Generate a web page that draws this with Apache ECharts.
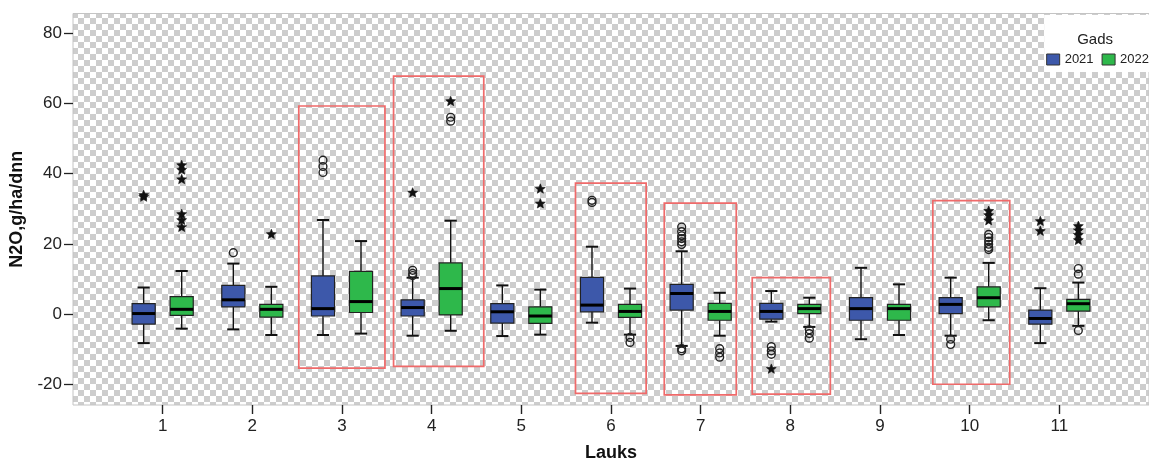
<!DOCTYPE html>
<html>
<head>
<meta charset="utf-8">
<title>N2O pa laukiem</title>
<script src="https://cdn.jsdelivr.net/npm/echarts@6/dist/echarts.min.js"></script>
<style>
  html, body { margin: 0; padding: 0; background: #fff; }
  #chart { width: 1149px; height: 467px; }
</style>
</head>
<body>
<div id="chart"></div>
<script>
// Field numbers (x axis) and y tick values
const fields = [1, 2, 3, 4, 5, 6, 7, 8, 9, 10, 11];
const yTicks = [-20, 0, 20, 40, 60, 80];
const years = ['2021', '2022'];

// Box statistics per field: [min whisker, Q1, median, Q3, max whisker]
const stats2021 = [
  [-8.2, -2.8, 0.2, 3.0, 7.6],
  [-4.3, 2.1, 4.1, 8.2, 14.4],
  [-5.9, -0.5, 1.6, 10.9, 26.8],
  [-6.1, -0.5, 1.9, 4.1, 10.4],
  [-6.2, -2.5, 0.7, 3.0, 8.2],
  [-2.4, 0.7, 2.6, 10.5, 19.2],
  [-9.0, 1.2, 5.9, 8.5, 17.9],
  [-2.1, -1.4, 0.8, 3.1, 6.6],
  [-7.1, -1.7, 1.6, 4.7, 13.2],
  [-6.1, 0.2, 2.8, 4.7, 10.4],
  [-8.2, -2.8, -1.2, 1.2, 7.4]
];
const stats2022 = [
  [-4.1, -0.3, 1.4, 5.0, 12.3],
  [-5.9, -0.8, 1.4, 2.8, 7.8],
  [-5.5, 0.5, 3.6, 12.2, 20.8],
  [-4.7, -0.2, 7.3, 14.6, 26.6],
  [-5.8, -2.6, -0.5, 2.1, 7.0],
  [-5.8, -0.9, 0.8, 2.8, 7.3],
  [-6.1, -1.7, 0.8, 3.1, 6.1],
  [-3.6, 0.2, 1.6, 2.8, 4.7],
  [-5.9, -1.7, 1.6, 2.8, 8.5],
  [-1.7, 2.1, 4.7, 7.8, 14.6],
  [-3.3, 0.9, 3.0, 4.2, 9.0]
];

// Outliers ("o") and extremes ("*"): [field, value]
const outliers2021 = [
  [2, 17.5],
  [3, 43.8], [3, 42.0], [3, 40.3],
  [4, 12.5], [4, 11.6], [4, 11.0],
  [6, 32.4], [6, 31.8],
  [7, 24.8], [7, 23.5], [7, 22.3], [7, 21.5], [7, 20.6], [7, 19.8], [7, -10.4], [7, -9.8],
  [8, -9.2], [8, -10.4], [8, -11.4],
  [10, -7.1], [10, -8.6]
];
const extremes2021 = [
  [1, 33.8], [1, 33.3],
  [4, 34.5],
  [8, -15.6],
  [11, 26.4], [11, 23.6]
];
const outliers2022 = [
  [4, 56.0], [4, 54.9],
  [6, -6.6], [6, -8.0],
  [7, -9.8], [7, -11.0], [7, -12.2],
  [8, -4.4], [8, -5.5], [8, -6.8],
  [10, 22.7], [10, 21.8], [10, 20.8], [10, 19.9], [10, 19.0], [10, 18.4],
  [11, 13.0], [11, 11.4], [11, -4.6]
];
const extremes2022 = [
  [1, 42.3], [1, 41.0], [1, 38.3], [1, 28.4], [1, 26.7], [1, 24.7],
  [2, 22.7],
  [4, 60.5],
  [5, 35.6], [5, 31.4],
  [10, 29.3], [10, 28.1], [10, 26.6],
  [11, 25.0], [11, 23.8], [11, 22.5], [11, 21.0]
];

// Highlight frames around selected fields: [x from, y top, x to, y bottom]
const frames = [
  [2.518, 59.2, 3.479, -15.3],
  [3.575, 67.7, 4.581, -14.8],
  [5.604, 37.3, 6.392, -22.5],
  [6.594, 31.6, 7.397, -22.9],
  [7.575, 10.4, 8.446, -22.7],
  [9.589, 32.3, 10.447, -19.9]
];

const BLUE = '#3d58aa';
const GREEN = '#2eb84b';
const FONT = '"Liberation Sans", Arial, sans-serif';

// Checkered plot background
const tile = document.createElement('canvas');
tile.width = 12; tile.height = 12;
const tctx = tile.getContext('2d');
tctx.fillStyle = '#ffffff';
tctx.fillRect(0, 0, 12, 12);
tctx.fillStyle = '#cdcdcd';
tctx.fillRect(0, 0, 6, 6);
tctx.fillRect(6, 6, 6, 6);

// side: -1 = left box in the pair, +1 = right box
function boxRenderer(side) {
  return function (params, api) {
    const f = api.value(0);
    const bw = api.size([1, 0])[0];
    const cx = api.coord([f, 0])[0] + side * bw * 0.212;
    const half = bw * 0.129;
    const cap = bw * 0.068;
    const y = i => api.coord([f, api.value(i)])[1];
    const yMin = y(1), yQ1 = y(2), yMed = y(3), yQ3 = y(4), yMax = y(5);
    const ln = { stroke: '#111', lineWidth: 1.4 };
    const capStyle = { stroke: '#111', lineWidth: 2 };
    return {
      type: 'group',
      children: [
        { type: 'line', shape: { x1: cx, y1: yMax, x2: cx, y2: yQ3 }, style: ln },
        { type: 'line', shape: { x1: cx, y1: yQ1, x2: cx, y2: yMin }, style: ln },
        { type: 'line', shape: { x1: cx - cap, y1: yMax, x2: cx + cap, y2: yMax }, style: capStyle },
        { type: 'line', shape: { x1: cx - cap, y1: yMin, x2: cx + cap, y2: yMin }, style: capStyle },
        { type: 'rect', shape: { x: cx - half, y: yQ3, width: half * 2, height: yQ1 - yQ3 },
          style: { fill: api.visual('color'), stroke: '#222', lineWidth: 1.2 } },
        { type: 'line', shape: { x1: cx - half, y1: yMed, x2: cx + half, y2: yMed },
          style: { stroke: '#000', lineWidth: 3 } }
      ]
    };
  };
}

function starPoints(cx, cy, r) {
  const pts = [];
  for (let i = 0; i < 10; i++) {
    const rr = i % 2 === 0 ? r : r * 0.45;
    const a = -Math.PI / 2 + i * Math.PI / 5;
    pts.push([cx + rr * Math.cos(a), cy + rr * Math.sin(a)]);
  }
  return pts;
}

function pointRenderer(side, kind) {
  return function (params, api) {
    const f = api.value(0);
    const bw = api.size([1, 0])[0];
    const p = api.coord([f, api.value(1)]);
    const cx = p[0] + side * bw * 0.212;
    if (kind === 'star') {
      return { type: 'polygon', shape: { points: starPoints(cx, p[1], 5.2) },
               style: { fill: '#111', stroke: '#111', lineWidth: 0.6 } };
    }
    return { type: 'circle', shape: { cx: cx, cy: p[1], r: 3.9 },
             style: { fill: 'none', stroke: '#222', lineWidth: 1.4 } };
  };
}

const boxData = stats => fields.map((f, i) => [f].concat(stats[i]));

const chart = echarts.init(document.getElementById('chart'), null, { renderer: 'canvas' });

chart.setOption({
  animation: false,
  backgroundColor: '#ffffff',
  textStyle: { fontFamily: FONT },
  grid: {
    left: 73, right: -6, top: 13.5, bottom: 61,
    show: true,
    backgroundColor: { image: tile, repeat: 'repeat' },
    borderColor: '#c4c4c4', borderWidth: 1
  },
  title: {
    text: 'Gads',
    right: 31, top: 27,
    textStyle: { fontFamily: FONT, fontSize: 15, fontWeight: 'normal', color: '#222' },
    z: 20
  },
  legend: {
    data: years,
    right: -4, top: 15,
    padding: [38, 4, 6, 2],
    itemGap: 8,
    itemWidth: 13, itemHeight: 11,
    icon: 'rect',
    backgroundColor: '#ffffff',
    itemStyle: { borderColor: '#333', borderWidth: 1 },
    textStyle: { fontFamily: FONT, fontSize: 13, color: '#222' },
    z: 10
  },
  xAxis: {
    type: 'value',
    min: 0, max: 12,
    name: 'Lauks',
    nameLocation: 'middle',
    nameGap: 39,
    nameTextStyle: { fontFamily: FONT, fontSize: 18, fontWeight: 'bold', color: '#111' },
    axisLine: { show: false, onZero: false },
    splitLine: { show: false },
    axisTick: { show: true, length: 9, customValues: fields, lineStyle: { color: '#222', width: 1.4 } },
    axisLabel: { customValues: fields, margin: 13, fontSize: 17, color: '#222', fontFamily: FONT }
  },
  yAxis: {
    type: 'value',
    min: -25.8, max: 85.5,
    name: 'N2O,g/ha/dnn',
    nameLocation: 'middle',
    nameGap: 41,
    nameTextStyle: { fontFamily: FONT, fontSize: 18, fontWeight: 'bold', color: '#111' },
    axisLine: { show: false, onZero: false },
    splitLine: { show: false },
    axisTick: { show: true, length: 9, customValues: yTicks, lineStyle: { color: '#222', width: 1.3 } },
    axisLabel: { customValues: yTicks, margin: 11, fontSize: 17, color: '#222', fontFamily: FONT }
  },
  series: [
    {
      name: '2021', type: 'custom',
      renderItem: boxRenderer(-1),
      itemStyle: { color: BLUE },
      encode: { x: 0, y: [1, 2, 3, 4, 5] },
      data: boxData(stats2021),
      z: 3,
      markArea: {
        silent: true,
        itemStyle: { color: 'rgba(0,0,0,0)', borderColor: '#ef6a6a', borderWidth: 1.7 },
        data: frames.map(r => [{ coord: [r[0], r[1]] }, { coord: [r[2], r[3]] }])
      }
    },
    {
      name: '2022', type: 'custom',
      renderItem: boxRenderer(1),
      itemStyle: { color: GREEN },
      encode: { x: 0, y: [1, 2, 3, 4, 5] },
      data: boxData(stats2022),
      z: 3
    },
    { name: 'o 2021', type: 'custom', renderItem: pointRenderer(-1, 'circle'),
      encode: { x: 0, y: 1 }, data: outliers2021, z: 4 },
    { name: '* 2021', type: 'custom', renderItem: pointRenderer(-1, 'star'),
      encode: { x: 0, y: 1 }, data: extremes2021, z: 4 },
    { name: 'o 2022', type: 'custom', renderItem: pointRenderer(1, 'circle'),
      encode: { x: 0, y: 1 }, data: outliers2022, z: 4 },
    { name: '* 2022', type: 'custom', renderItem: pointRenderer(1, 'star'),
      encode: { x: 0, y: 1 }, data: extremes2022, z: 4 }
  ]
});
</script>
</body>
</html>
